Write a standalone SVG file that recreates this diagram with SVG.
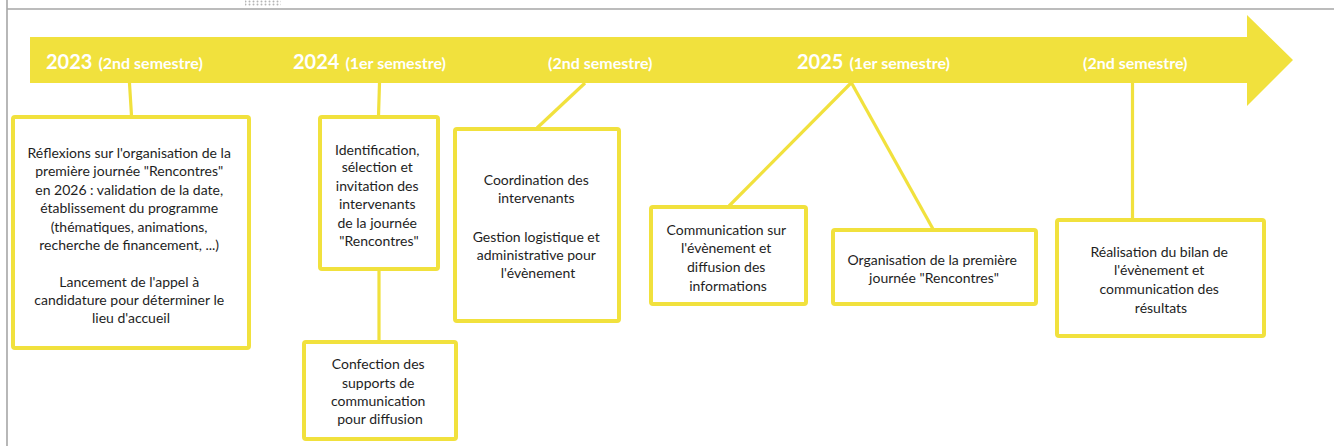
<svg xmlns="http://www.w3.org/2000/svg" width="1334" height="446" viewBox="0 0 1334 446">
  <style>
    .frame { stroke: #a6a6a6; stroke-width: 1.6; fill: none; }
    .box { fill: #ffffff; stroke: #f1e13d; stroke-width: 4; }
    .link { stroke: #f1e13d; stroke-width: 3.2; fill: none; stroke-linecap: butt; }
    .band { fill: #f1e13d; }
    .year { font-family: Lato, "Open Sans", sans-serif; font-weight: 700; font-size: 20px; fill: #ffffff; }
    .sem { font-family: Lato, "Open Sans", sans-serif; font-weight: 700; font-size: 16px; fill: #ffffff; }
    .txt { font-family: Lato, "Noto Sans", sans-serif; font-size: 14px; fill: #1e1e1e; text-anchor: middle; }
  </style>
  <defs>
    <pattern id="grip" x="0" y="0" width="4" height="3" patternUnits="userSpaceOnUse">
      <circle cx="1.5" cy="1.5" r="1" fill="#b4b4b4"/>
    </pattern>
  </defs>

  <rect width="1334" height="446" fill="#ffffff"/>

  <!-- page frame -->
  <line class="frame" x1="7" y1="9" x2="1334" y2="9"/>
  <line class="frame" x1="7" y1="0" x2="7" y2="446" stroke="#bdbdbd"/>
  <rect x="245" y="0" width="36" height="6" fill="url(#grip)"/>

  <!-- timeline arrow -->
  <g id="timeline">
    <polygon class="band" points="30,37 1247,37 1247,15 1293,60 1247,106 1247,83 30,83"/>
    <text x="46" y="69"><tspan class="year">2023</tspan><tspan class="sem" dx="6">(2nd semestre)</tspan></text>
    <text x="293" y="69"><tspan class="year">2024</tspan><tspan class="sem" dx="6">(1er semestre)</tspan></text>
    <text x="548" y="69"><tspan class="sem">(2nd semestre)</tspan></text>
    <text x="797" y="69"><tspan class="year">2025</tspan><tspan class="sem" dx="6">(1er semestre)</tspan></text>
    <text x="1083" y="69"><tspan class="sem">(2nd semestre)</tspan></text>
  </g>

  <!-- connectors -->
  <g id="connectors">
    <line class="link" x1="129.5" y1="83" x2="131.5" y2="116"/>
    <line class="link" x1="379.5" y1="83" x2="378.5" y2="116"/>
    <line class="link" x1="379" y1="270" x2="379" y2="342"/>
    <line class="link" x1="585" y1="83" x2="537" y2="128"/>
    <line class="link" x1="852" y1="82" x2="729" y2="206"/>
    <line class="link" x1="851" y1="82" x2="933" y2="229"/>
    <line class="link" x1="1132.5" y1="83" x2="1132.5" y2="219"/>
  </g>

  <!-- milestone boxes -->
  <g id="reflexions">
    <rect class="box" x="13" y="117" width="236" height="231" rx="2"/>
    <text class="txt">
      <tspan x="131" y="157.5">Réflexions sur l'organisation de la</tspan>
      <tspan x="131" y="176">première journée "Rencontres"</tspan>
      <tspan x="131" y="194.5">en 2026 : validation de la date,</tspan>
      <tspan x="131" y="213">établissement du programme</tspan>
      <tspan x="131" y="231.5">(thématiques, animations,</tspan>
      <tspan x="131" y="250">recherche de financement, ...)</tspan>
      <tspan x="131" y="287">Lancement de l'appel à</tspan>
      <tspan x="131" y="305">candidature pour déterminer le</tspan>
      <tspan x="131" y="323">lieu d'accueil</tspan>
    </text>
  </g>

  <g id="identification">
    <rect class="box" x="320" y="117" width="118" height="152" rx="2"/>
    <text class="txt">
      <tspan x="379" y="154.5">Identification,</tspan>
      <tspan x="379" y="172">sélection et</tspan>
      <tspan x="379" y="191">invitation des</tspan>
      <tspan x="379" y="209">intervenants</tspan>
      <tspan x="379" y="227.5">de la journée</tspan>
      <tspan x="379" y="245.5">"Rencontres"</tspan>
    </text>
  </g>

  <g id="confection">
    <rect class="box" x="304" y="342" width="152" height="97" rx="2"/>
    <text class="txt">
      <tspan x="380" y="368.5">Confection des</tspan>
      <tspan x="380" y="387.5">supports de</tspan>
      <tspan x="380" y="406">communication</tspan>
      <tspan x="380" y="424">pour diffusion</tspan>
    </text>
  </g>

  <g id="coordination">
    <rect class="box" x="455" y="129" width="164" height="192" rx="2"/>
    <text class="txt">
      <tspan x="538" y="184.5">Coordination des</tspan>
      <tspan x="538" y="203">intervenants</tspan>
      <tspan x="538" y="241.5">Gestion logistique et</tspan>
      <tspan x="538" y="259.5">administrative pour</tspan>
      <tspan x="538" y="277.5">l'évènement</tspan>
    </text>
  </g>

  <g id="communication">
    <rect class="box" x="651" y="207" width="155" height="97" rx="2"/>
    <text class="txt">
      <tspan x="728" y="234.5">Communication sur</tspan>
      <tspan x="728" y="252.5">l'évènement et</tspan>
      <tspan x="728" y="271.5">diffusion des</tspan>
      <tspan x="728" y="290.5">informations</tspan>
    </text>
  </g>

  <g id="organisation">
    <rect class="box" x="833" y="230" width="203" height="74" rx="2"/>
    <text class="txt">
      <tspan x="934" y="264.5">Organisation de la première</tspan>
      <tspan x="934" y="282.5">journée "Rencontres"</tspan>
    </text>
  </g>

  <g id="bilan">
    <rect class="box" x="1057" y="220" width="207" height="116" rx="2"/>
    <text class="txt">
      <tspan x="1161" y="256.5">Réalisation du bilan de</tspan>
      <tspan x="1161" y="274.5">l'évènement et</tspan>
      <tspan x="1161" y="293.5">communication des</tspan>
      <tspan x="1161" y="312.5">résultats</tspan>
    </text>
  </g>
</svg>
